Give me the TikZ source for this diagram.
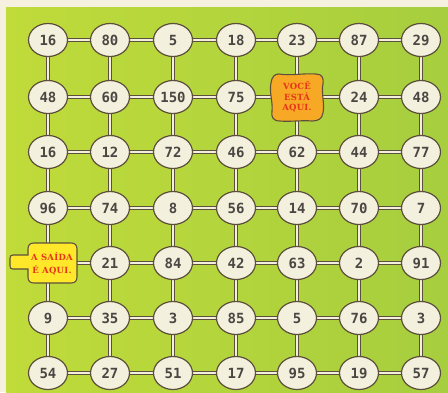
\documentclass[tikz,border=0pt]{standalone}
\usepackage{fontspec}
\usetikzlibrary{shapes.geometric}
\newfontfamily\numfont{DejaVu Sans Mono Bold}
\newfontfamily\redfont[LetterSpace=3]{DejaVu Serif Bold}
\definecolor{cream}{RGB}{244,240,222}
\definecolor{paper}{RGB}{245,241,222}
\definecolor{lineclr}{RGB}{92,80,60}
\definecolor{numtxt}{RGB}{74,71,67}
\definecolor{redtxt}{RGB}{232,52,28}
\definecolor{orangefill}{RGB}{247,168,36}
\definecolor{yellowfill}{RGB}{255,232,42}
\definecolor{greenL}{RGB}{192,219,58}
\definecolor{greenR}{RGB}{166,206,62}
\pgfdeclarelayer{back}
\pgfdeclarelayer{bg}
\pgfsetlayers{back,bg,main}
\def\markX{X}
\begin{document}
\begin{tikzpicture}[x=1pt,y=-1pt,
  numnode/.style={ellipse, draw=lineclr, line width=1.2pt, fill=cream,
    minimum width=39pt, minimum height=33pt, inner sep=0pt,
    font=\numfont\fontsize{14}{14}\selectfont, text=numtxt},
  signtext/.style={align=center, inner sep=0pt, text=redtxt,
    font=\redfont\fontsize{8.5}{10.5}\selectfont},
  signshape/.style={draw=lineclr, line width=1.1pt},
  conn/.style={draw=lineclr, line width=1.1pt, double=cream, double distance=2pt}
]
\useasboundingbox (0,0) rectangle (448,392);
\begin{pgfonlayer}{back}
\fill[paper] (0,0) rectangle (448,392);
\shade[left color=greenL, right color=greenR] (6,7) rectangle (448,392);
\end{pgfonlayer}

% "VOCE ESTA AQUI" sign
\filldraw[signshape, fill=orangefill]
  (279,74) .. controls (290,76) and (304,73) .. (316,74)
  .. controls (322,74) and (324,78) .. (323,84)
  .. controls (321,93) and (325,104) .. (323,113)
  .. controls (322,119) and (318,121) .. (312,121)
  .. controls (302,120) and (290,122) .. (280,121)
  .. controls (273,121) and (271,117) .. (272,111)
  .. controls (273,102) and (269,92) .. (271,83)
  .. controls (272,76) and (275,74) .. (279,74) -- cycle;

% "A SAIDA E AQUI" sign
\filldraw[signshape, fill=yellowfill]
  (34,243) -- (71,243) .. controls (75,243) and (77,245) .. (77,249)
  -- (77,277) .. controls (77,281) and (75,283) .. (71,283)
  -- (34,283) .. controls (30,283) and (28,281) .. (28,277)
  -- (28,269) -- (13,269) .. controls (11,269) and (10,268) .. (10,266)
  -- (10,258) .. controls (10,256) and (11,255) .. (13,255)
  -- (28,255) -- (28,249) .. controls (28,245) and (30,243) .. (34,243) -- cycle;

\node[signtext] (n-2-5) at (297,97) {VOCÊ\\ESTÁ\\AQUI.};
\node[inner sep=0pt] (n-5-1) at (48,263) {};
\node[signtext, font=\redfont\fontsize{8.5}{12.5}\selectfont] (exitlabel) at (52,264) {A SAÍDA\\É AQUI.};

\def\xs{{0,48,110,173,236,297,359,421}}
\def\ys{{0,40,97,152,208,263,318,373}}
\foreach \r/\row in {1/{16,80,5,18,23,87,29},
                      2/{48,60,150,75,X,24,48},
                      3/{16,12,72,46,62,44,77},
                      4/{96,74,8,56,14,70,7},
                      5/{X,21,84,42,63,2,91},
                      6/{9,35,3,85,5,76,3},
                      7/{54,27,51,17,95,19,57}} {
  \foreach \v [count=\c] in \row {
    \edef\curv{\v}
    \ifx\curv\markX\else
      \pgfmathsetmacro{\px}{\xs[\c]}
      \pgfmathsetmacro{\py}{\ys[\r]}
      \node[numnode] (n-\r-\c) at (\px,\py) {\v};
    \fi
  }
}

\begin{pgfonlayer}{bg}
\foreach \r in {1,...,7} {
  \foreach \c [evaluate=\c as \d using int(\c+1)] in {1,...,6} {
    \draw[conn] (n-\r-\c.center) -- (n-\r-\d.center);
  }
}
\foreach \c in {1,...,7} {
  \foreach \r [evaluate=\r as \s using int(\r+1)] in {1,...,6} {
    \draw[conn] (n-\r-\c.center) -- (n-\s-\c.center);
  }
}
\end{pgfonlayer}
\end{tikzpicture}
\end{document}
